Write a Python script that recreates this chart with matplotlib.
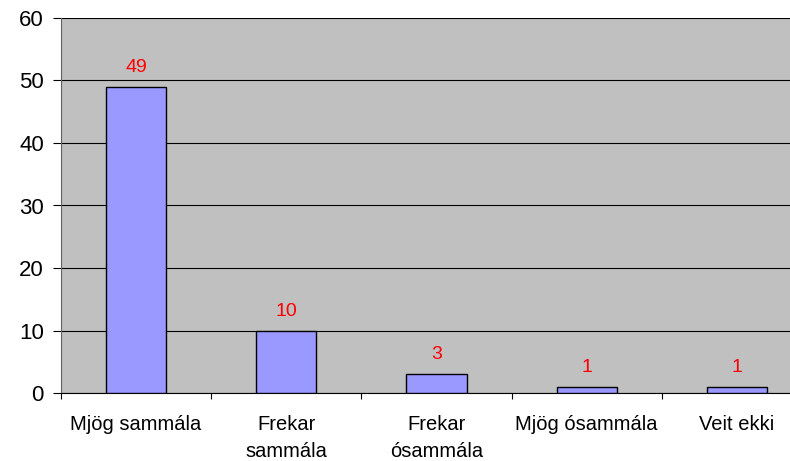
import matplotlib
matplotlib.use("Agg")
import matplotlib.pyplot as plt

categories = ["Mjög sammála", "Frekar\nsammála", "Frekar\nósammála", "Mjög ósammála", "Veit ekki"]
values = [49, 10, 3, 1, 1]
yticks = [0, 10, 20, 30, 40, 50, 60]

plt.rcParams['font.family'] = ['Liberation Sans', 'DejaVu Sans']

fig = plt.figure(figsize=(7.9, 4.61), dpi=100)
ax = fig.add_axes([61/790, 68/461, 751/790, 375/461])
ax.set_facecolor('#C0C0C0')

x = list(range(len(categories)))
ax.bar(x, values, width=0.4, color='#9999FF', edgecolor='black', linewidth=1.0, zorder=3)

for xi, v in zip(x, values):
    ax.annotate(str(v), (xi, v), xytext=(0, 14), textcoords='offset points',
                ha='center', va='center', color='#FF0000', fontsize=14)

ax.set_xlim(-0.5, 4.5)
ax.set_ylim(0, 60)
ax.set_yticks(yticks)
ax.set_yticklabels([str(t) for t in yticks], fontsize=16)
ax.yaxis.grid(True, color='black', linewidth=0.8, zorder=1)
ax.set_axisbelow(True)

ax.set_xticks([i - 0.5 for i in range(len(categories) + 1)])
ax.set_xticklabels([])
ax.set_xticks(x, minor=True)
ax.set_xticklabels(categories, minor=True, fontsize=14.5, linespacing=1.5)
ax.tick_params(axis='x', which='minor', length=0, pad=16)
ax.tick_params(axis='x', which='major', length=4.3, width=0.8, direction='out')
ax.tick_params(axis='y', length=5.8, width=0.8, direction='out', pad=6.5)

for s in ['top', 'right']:
    ax.spines[s].set_visible(False)
ax.spines['left'].set_color('#606060')
ax.spines['left'].set_linewidth(0.8)
ax.spines['bottom'].set_color('black')
ax.spines['bottom'].set_linewidth(0.8)

fig.savefig('out.png', dpi=100)
